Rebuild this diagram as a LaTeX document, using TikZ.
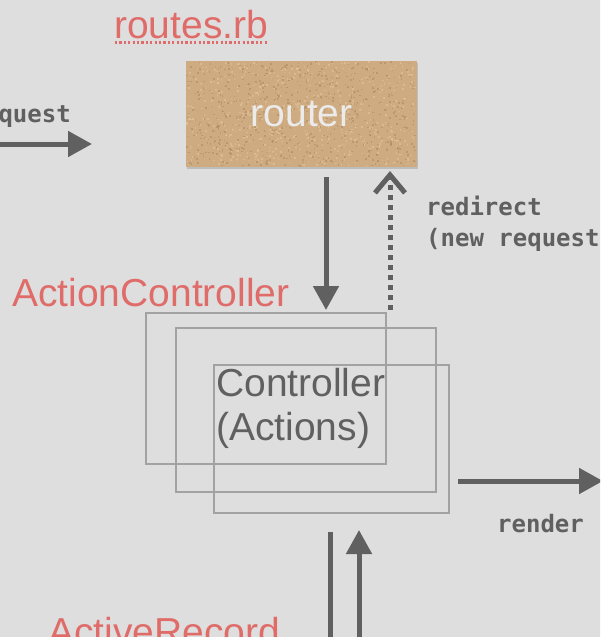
\documentclass[tikz,border=0pt]{standalone}
\usepackage{fontspec}
\setmainfont{Liberation Sans}
\newfontfamily\pix{DejaVu Sans Mono}
\usetikzlibrary{arrows.meta,shadows}
\definecolor{bg}{HTML}{DEDEDE}
\definecolor{redtxt}{HTML}{E06C69}
\definecolor{dark}{HTML}{606060}
\definecolor{boxline}{HTML}{A2A2A2}
\definecolor{tan}{HTML}{CFAB82}
\definecolor{tandark}{HTML}{A98760}
\definecolor{tanlight}{HTML}{E2C49C}
\definecolor{rtxt}{HTML}{EBEBEB}
\tikzset{
  bigtxt/.style={inner sep=0pt,font=\fontsize{39}{44}\selectfont},
  pixtxt/.style={inner sep=0pt,text=dark,font=\pix\bfseries\fontsize{24}{28}\selectfont},
  frame/.style={draw=boxline,line width=1.6pt,inner sep=0pt,anchor=north west},
  flow/.style={draw=dark,line width=5pt,-{Triangle[length=24pt,width=25pt]}},
  plainflow/.style={draw=dark,line width=5pt},
  dotflow/.style={draw=dark,line width=5pt,dash pattern=on 5pt off 5pt,-{Straight Barb[length=18pt,width=30pt,line width=5pt]}}
}
\begin{document}
\begin{tikzpicture}[x=1pt,y=-1pt]
\useasboundingbox (0,0) rectangle (600,637);
\clip (0,0) rectangle (600,637);
\fill[bg] (-5,-5) rectangle (605,645);
% router
\node[fill=tan,minimum width=231pt,minimum height=106pt,anchor=north west,inner sep=0pt,
  drop shadow={shadow xshift=1pt,shadow yshift=-2pt,opacity=0.35}] (router) at (186,61) {};
\pgfmathsetseed{7}
\foreach \i in {1,...,700}{
  \pgfmathsetmacro{\px}{186+229*rnd}
  \pgfmathsetmacro{\py}{61+104*rnd}
  \fill[tandark,opacity=0.5] (\px,\py) rectangle ++(1.6,1.6);
}
\foreach \i in {1,...,600}{
  \pgfmathsetmacro{\px}{186+229*rnd}
  \pgfmathsetmacro{\py}{61+104*rnd}
  \fill[tanlight,opacity=0.6] (\px,\py) rectangle ++(1.6,1.6);
}
\node[bigtxt,text=rtxt] (routerlbl) at (router.center) {router};
% routes.rb
\node[bigtxt,text=redtxt,anchor=base west] (routes) at (114,38) {routes.rb};
\draw[redtxt,line width=2.2pt,dash pattern=on 2.2pt off 2.2pt] ([yshift=-4.5pt,xshift=1pt]routes.base west) -- ([yshift=-4.5pt]routes.base east);
% request
\node[pixtxt,anchor=base east] (req) at (71,122) {request};
\coordinate (reqS) at (-10,144);
\coordinate (reqE) at (92,144);
\draw[flow] (reqS) -- (reqE);
% labels
\node[bigtxt,text=redtxt,anchor=base west] (ac) at (12,306) {ActionController};
\node[bigtxt,text=redtxt,anchor=base west] (ar) at (48,645) {ActiveRecord};
% frames
\node[frame,minimum width=240pt,minimum height=151pt] (f1) at (145,312) {};
\node[frame,minimum width=260pt,minimum height=164pt] (f2) at (175,327) {};
\node[frame,minimum width=235pt,minimum height=148pt] (f3) at (213,364) {};
\node[bigtxt,text=dark,align=left,anchor=north west] (ctrl) at (216,368) {Controller\\(Actions)};
% router <-> controller
\coordinate (dS) at (326,177);
\coordinate (dE) at (326,310);
\draw[flow] (dS) -- (dE);
\coordinate (uS) at (390,310);
\coordinate (uE) at (390,171);
\draw[dotflow] (uS) -- (uE);
\node[pixtxt,anchor=base west] (redir) at (426,215) {redirect};
\node[pixtxt,anchor=base west] (newreq) at (426,246) {(new request)};
% render
\coordinate (rS) at (458,481);
\coordinate (rE) at (603,481);
\draw[flow] (rS) -- (rE);
\node[pixtxt,anchor=base west] (render) at (497,532) {render};
% model arrows
\coordinate (mS) at (330,532);
\coordinate (mE) at (330,645);
\draw[plainflow] (mS) -- (mE);
\coordinate (m2S) at (359,645);
\coordinate (m2E) at (359,530);
\draw[flow] (m2S) -- (m2E);
\end{tikzpicture}
\end{document}
